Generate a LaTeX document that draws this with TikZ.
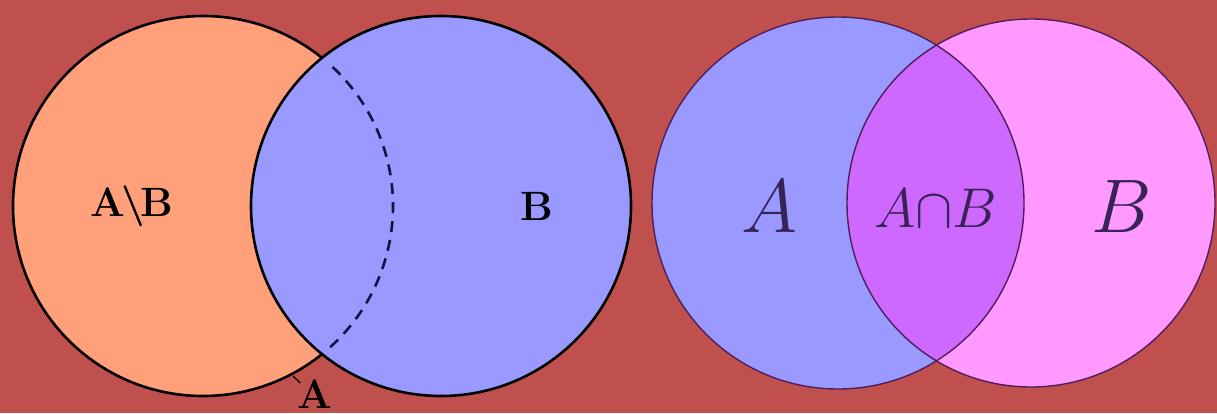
\RequirePackage{fix-cm}
\documentclass[tikz,border=0pt]{standalone}
\usepackage{amssymb}
\usetikzlibrary{calc}
\definecolor{bgred}{RGB}{192,80,77}
\definecolor{salmon}{RGB}{255,160,122}
\definecolor{lblue}{RGB}{153,153,255}
\definecolor{lpink}{RGB}{255,153,255}
\definecolor{lpurple}{RGB}{205,105,255}
\definecolor{dpurple}{RGB}{80,30,90}
\definecolor{dnavy}{RGB}{20,20,70}
\definecolor{txtpurple}{RGB}{55,35,85}
\tikzset{
  setcircle/.style={draw=black, line width=2.6pt},
  vennline/.style={draw=dpurple, line width=1.4pt},
  boldlab/.style={font=\fontsize{41}{44}\selectfont\bfseries\boldmath, text=black, inner sep=0pt},
  mathlab/.style={text=txtpurple, inner sep=0pt},
  dasharc/.style={draw=dnavy, line width=2.6pt, dash pattern=on 11pt off 8pt}
}
\begin{document}
\begin{tikzpicture}[x=1pt,y=1pt]
\useasboundingbox (0,0) rectangle (1217,413);
\fill[bgred] (0,0) rectangle (1217,413);
% left diagram
\coordinate (cA) at (203,207);
\coordinate (cB) at (441,207);
\fill[salmon] (cA) circle (190);
\draw[setcircle] (cA) circle (190);
\fill[lblue] (cB) circle (190);
\draw[setcircle] (cB) circle (190);
\draw[dasharc] ($(cA)+(47:190)$) arc (47:-50:190);
\node[boldlab] (AminusB) at (132,207) {A\kern-4pt$\backslash$\kern-4pt B};
\node[boldlab] (Blab) at (537,207) {B};
\node[boldlab, anchor=base] (Alab) at (315,5) {A};
\coordinate (Atick) at (293,37);
\draw[line width=1.2pt] (Atick) -- ($(Alab.north west)+(3,-4)$);
% right diagram
\coordinate (rA) at (838,210);
\coordinate (rB) at (1031,210);
\fill[lblue] (rA) circle (186);
\fill[lpink] (rB) circle (184);
\begin{scope}
  \clip (rA) circle (186);
  \fill[lpurple] (rB) circle (184);
\end{scope}
\draw[vennline] (rA) circle (186);
\draw[vennline] (rB) circle (184);
\node[mathlab, font=\fontsize{76}{80}\selectfont] (RA) at (769,206) {$A$};
\node[mathlab, font=\fontsize{56}{60}\selectfont] (RAB) at (936,205) {$A{\cap}B$};
\node[mathlab, font=\fontsize{76}{80}\selectfont] (RB) at (1122,206) {$B$};
\end{tikzpicture}
\end{document}
